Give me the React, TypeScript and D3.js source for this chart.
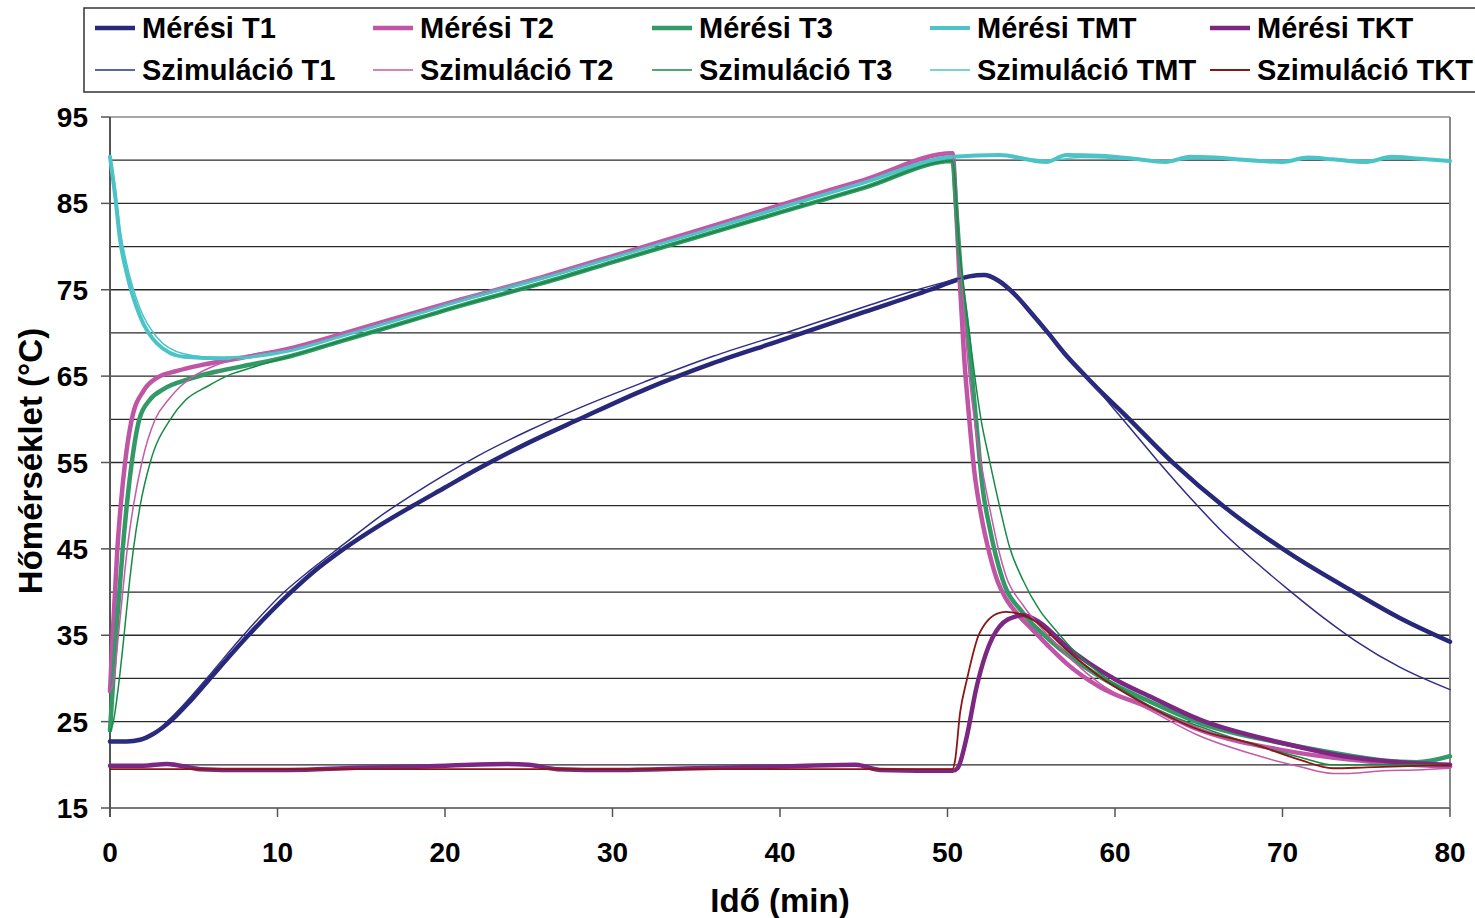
import React from "react";
import * as d3 from "d3";

type P = [number, number];

const xTicks = [0, 10, 20, 30, 40, 50, 60, 70, 80];
const yTicks = [15, 25, 35, 45, 55, 65, 75, 85, 95];
const yGrid = [20, 25, 30, 35, 40, 45, 50, 55, 60, 65, 70, 75, 80, 85, 90, 95];

const measT1: P[] = [[0,22.7],[1,22.7],[1.8,22.9],[2.6,23.6],[3.58,25],[4.8,27.4],[5.97,30],[8.26,35],[10.75,39.9],[12,42.1],[14,45.05],[16,47.6],[18,49.9],[20,52.1],[22,54.3],[25,57.3],[28,60.0],[32,63.5],[36,66.5],[40,69.1],[45,72.4],[48.96,75.0],[50.5,76.1],[51.3,76.55],[52.2,76.7],[53,76.1],[54,74.5],[55,72.3],[56,70.0],[57,67.6],[58,65.5],[59,63.5],[60.5,60.7],[63.5,54.9],[66.5,49.9],[70.4,44.5],[74.4,39.85],[77,37.0],[80,34.25]];
const simT1: P[] = [[0,22.7],[1,22.7],[1.8,22.9],[2.5,23.5],[3.4,25],[4.6,27.4],[5.77,30],[7.96,35],[10.4,40],[12,42.6],[14,45.6],[16,48.6],[18,51.2],[20,53.6],[22,55.8],[25,58.7],[28,61.3],[32,64.4],[36,67.3],[40,69.8],[45,73.0],[48.2,75.0],[50.5,76.2],[51.3,76.55],[52.2,76.7],[53,76.1],[54,74.5],[55,72.3],[56,70.0],[57,67.6],[58,65.5],[58.7,64.0],[59.5,62.2],[60.9,59.0],[62.5,55.3],[64.5,50.9],[66.5,46.8],[68.5,43.3],[70.4,40.2],[72.4,37.1],[74.4,34.3],[77,31.3],[80,28.7]];
const measT2: P[] = [[0,28.5],[0.16,35],[0.3,40],[0.44,45],[0.64,50],[0.9,55],[1.3,60],[2.0,63.3],[2.8,64.8],[4.0,65.6],[5.5,66.3],[7.8,67.1],[10.75,68.2],[13.7,69.8],[16.7,71.5],[21,73.9],[25.7,76.4],[30,78.9],[35,81.8],[40,84.8],[45,87.7],[50.3,90.8],[50.5,85],[50.7,77],[51.0,67],[51.3,60],[51.6,54],[52.0,49],[52.5,44.5],[53.0,41.2],[53.5,39.2],[54.3,37.2],[55.1,35.6],[56.1,33.6],[57.1,31.75],[59.1,29.0],[62.1,26.6],[65.1,24.0],[70,21.7],[74,20.6],[77,20.1],[80,19.8]];
const simT2: P[] = [[0,28.5],[0.24,30],[0.5,35],[0.76,40],[1.03,45],[1.4,50],[1.9,55],[2.7,60],[3.5,62.3],[4.2,63.8],[5.0,65],[6.0,66.0],[7.0,66.7],[8.5,67.5],[10.75,68.2],[13.7,69.8],[16.7,71.5],[21,73.9],[25.7,76.4],[30,78.9],[35,81.8],[40,84.8],[45,87.7],[50.3,90.8],[50.55,84],[50.85,76],[51.2,67],[51.6,60],[52.0,55],[52.5,49.9],[53.0,45.3],[53.5,41.8],[54.5,38.5],[56.1,34.8],[57.5,32.0],[59.1,29.4],[62.1,26.3],[65.1,23.3],[68.1,21.3],[71,19.8],[73,19.0],[74,19.0],[76,19.3],[78,19.4],[80,19.6]];
const measT3: P[] = [[0,24],[0.2,30],[0.36,35],[0.56,40],[0.76,45],[1.0,50],[1.3,55],[1.75,60],[2.4,62.3],[3.2,63.5],[4.8,64.7],[6.3,65.5],[7.8,66.1],[10.75,67.3],[13.7,69.0],[16.7,70.7],[21,73.2],[25.7,75.7],[30,78.2],[35,81.07],[40,83.95],[45,86.8],[50.3,89.9],[50.5,85],[50.8,77],[51.2,70.3],[51.7,60],[52.1,52],[52.5,47.6],[53.3,41.4],[54.5,37.6],[56.1,34.45],[59.1,30.2],[62.1,27.3],[65.1,24.8],[70,22.5],[73,21.4],[76,20.5],[78,20.3],[80,21.0]];
const simT3: P[] = [[0,23.7],[0.2,25],[0.56,30],[0.84,35],[1.1,40],[1.4,45],[1.8,50],[2.4,55],[3.6,60],[4.5,62.2],[5.8,63.8],[7.2,65.2],[8.5,66.0],[10.75,67.3],[13.7,69.0],[16.7,70.7],[21,73.2],[25.7,75.7],[30,78.2],[35,81.07],[40,83.95],[45,86.8],[50.3,89.9],[50.7,80],[51.3,70],[52,60],[52.5,55.3],[53.1,50],[53.7,45.25],[54.5,41.4],[55.5,37.9],[56.5,35.5],[57.5,33.3],[59.1,30.6],[62.1,26.8],[65.1,24.4],[68,22.5],[71,20.9],[73,20.0],[76,20.0],[80,20.0]];
const measTMT: P[] = [[0,90.4],[0.3,86],[0.6,80.8],[1.0,76.9],[1.8,71.9],[2.8,68.8],[4.4,67.25],[6.8,67.06],[10.75,68.0],[13.7,69.6],[16.7,71.3],[21,73.8],[25.7,76.3],[30,78.76],[35,81.6],[40,84.5],[45,87.4],[50.3,90.4],[53.1,90.6],[55.9,89.8],[57.1,90.6],[59.1,90.5],[61,90.2],[63,89.8],[64.5,90.4],[66,90.3],[68,90.0],[70,89.8],[71.5,90.3],[73,90.1],[75,89.8],[76.5,90.4],[78,90.2],[80,89.9]];
const simTMT: P[] = [[0,90.4],[0.3,87],[0.6,82],[1.0,78],[1.8,72.8],[2.8,69.5],[4.4,67.6],[6.8,67.1],[10.75,68.0],[13.7,69.6],[16.7,71.3],[21,73.8],[25.7,76.3],[30,78.76],[35,81.6],[40,84.5],[45,87.4],[50.3,90.4],[53,90.5],[56,90.0],[58,90.3],[61,90.1],[63,89.9],[65,90.2],[68,90.1],[70,89.9],[72,90.2],[75,90.0],[77,90.2],[80,90.0]];
const measTKT: P[] = [[0,19.9],[2,19.9],[3.4,20.1],[5.4,19.5],[8,19.4],[10.7,19.4],[14.7,19.65],[18.7,19.8],[23.7,20.1],[25,20.0],[26.7,19.5],[30,19.4],[35,19.6],[40,19.8],[44.5,20.0],[46,19.4],[50.3,19.3],[50.6,19.6],[51.15,23.25],[51.7,28.7],[52.3,32.9],[53.1,36.0],[54.1,37.2],[54.5,37.35],[55.5,36.5],[57.1,33.7],[60.1,29.8],[62.1,27.9],[65.1,25.2],[70.05,22.5],[74,20.9],[77,20.3],[80,20.0]];
const simTKT: P[] = [[0,19.5],[50.3,19.5],[50.45,20.5],[50.75,26.0],[51.15,29.8],[51.9,35.2],[53.1,37.6],[53.5,37.7],[55.1,36.8],[57,33.5],[59.1,30.2],[62.1,26.7],[65.1,24.0],[68.1,22.5],[71,20.6],[73,19.6],[75,19.7],[80,20.0]];

const seriesNames = ["Mérési T1","Mérési T2","Mérési T3","Mérési TMT","Mérési TKT","Szimuláció T1","Szimuláció T2","Szimuláció T3","Szimuláció TMT","Szimuláció TKT"];
const seriesData = [measT1, measT2, measT3, measTMT, measTKT, simT1, simT2, simT3, simTMT, simTKT];
const seriesColors = ["#28287a","#c055a6","#339966","#4cc4c7","#7c2883","#2e2e88","#c45aa8","#178a45","#4cc4c7","#8b1616"];
const seriesWidths = [4.5,4.5,4.5,4,4.5,1.5,1.5,1.5,1.5,1.8];

const W = 1475, H = 918;
const L = 110, R = 1450, T = 117, B = 808;
const FONT = "'Liberation Sans', Arial, sans-serif";

export default function App() {
  const x = d3.scaleLinear().domain([0, 80]).range([L, R]);
  const y = d3.scaleLinear().domain([15, 95]).range([B, T]);
  const line = d3.line<P>().x(d => x(d[0])).y(d => y(d[1])).curve(d3.curveMonotoneX);

  const legendCols = [95, 373, 652, 930, 1210];
  const legendRows = [28, 70];

  return (
    <div style={{ position: "absolute", left: 0, top: 0 }}>
      <svg width={W} height={H} style={{ display: "block", background: "#fff" }}>
        {yGrid.map(v => (
          <line key={"g" + v} x1={L} x2={R} y1={y(v)} y2={y(v)} stroke={v === 95 ? "#888" : "#2a2a2a"} strokeWidth={1.3} />
        ))}
        <line x1={R} x2={R} y1={T} y2={B} stroke="#888" strokeWidth={2} />
        <line x1={L} x2={R} y1={B} y2={B} stroke="#777" strokeWidth={2} />
        {xTicks.map(t => (
          <g key={"xt" + t}>
            <line x1={x(t)} x2={x(t)} y1={B} y2={B + 9} stroke="#555" strokeWidth={1.5} />
            <text x={x(t)} y={862} textAnchor="middle" fontFamily={FONT} fontWeight="bold" fontSize={28} fill="#000">{t}</text>
          </g>
        ))}
        <line x1={L} x2={L} y1={T} y2={B + 9} stroke="#555" strokeWidth={2} />
        {yTicks.map(v => (
          <g key={"yt" + v}>
            <line x1={L - 9} x2={L} y1={y(v)} y2={y(v)} stroke="#555" strokeWidth={1.5} />
            <text x={88} y={y(v) + 10} textAnchor="end" fontFamily={FONT} fontWeight="bold" fontSize={28} fill="#000">{v}</text>
          </g>
        ))}
        <g>
          {seriesData.map((d, i) => (
            <path key={"s" + i} d={line(d) || ""} fill="none" stroke={seriesColors[i]} strokeWidth={seriesWidths[i]} strokeLinejoin="round" strokeLinecap="round" />
          ))}
        </g>
        <text x={780} y={912} textAnchor="middle" fontFamily={FONT} fontWeight="bold" fontSize={33} fill="#000">Idő (min)</text>
        <text transform="translate(42,461) rotate(-90)" textAnchor="middle" fontFamily={FONT} fontWeight="bold" fontSize={33} fill="#000">Hőmérséklet (°C)</text>
        <rect x={84} y={8} width={1400} height={84} fill="#fff" stroke="#333" strokeWidth={1.5} />
        {seriesNames.map((n, i) => {
          const col = i % 5;
          const row = Math.floor(i / 5);
          const lx = legendCols[col];
          const ly = legendRows[row];
          return (
            <g key={"l" + i}>
              <line x1={lx} x2={lx + 40} y1={ly} y2={ly} stroke={seriesColors[i]} strokeWidth={seriesWidths[i]} />
              <text x={lx + 47} y={ly + 10} fontFamily={FONT} fontWeight="bold" fontSize={29} fill="#000">{n}</text>
            </g>
          );
        })}
      </svg>
    </div>
  );
}
